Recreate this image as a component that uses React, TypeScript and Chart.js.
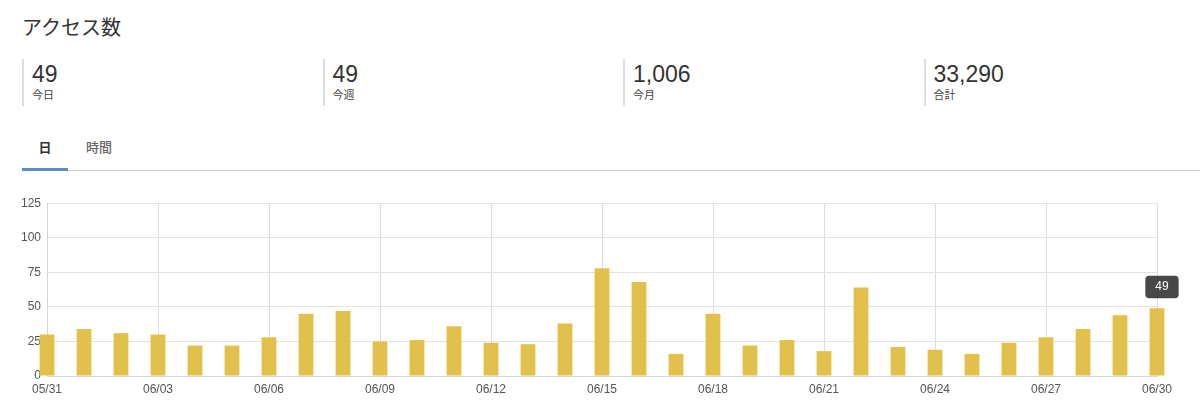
import React, { useEffect, useRef } from "react";
import { Chart, registerables, Tooltip } from "chart.js";

Chart.register(...registerables);

const dates = [
  "05/31", "06/01", "06/02", "06/03", "06/04", "06/05", "06/06", "06/07", "06/08", "06/09",
  "06/10", "06/11", "06/12", "06/13", "06/14", "06/15", "06/16", "06/17", "06/18", "06/19",
  "06/20", "06/21", "06/22", "06/23", "06/24", "06/25", "06/26", "06/27", "06/28", "06/29", "06/30",
];
const visits = [
  30, 34, 31, 30, 22, 22, 28, 45, 47, 25,
  26, 36, 24, 23, 38, 78, 68, 16, 45, 22,
  26, 18, 64, 21, 19, 16, 24, 28, 34, 44, 49,
];
const statValues = ["49", "49", "1,006", "33,290"];
const statLabels = ["今日", "今週", "今月", "合計"];
const tabs = ["日", "時間"];
const yTicks = [0, 25, 50, 75, 100, 125];

(Tooltip as any).positioners.shifted = function (items: any[]) {
  if (!items.length) return false;
  const el = items[0].element;
  return { x: el.x + 5, y: el.y };
};

const JP = '"Liberation Sans", "Noto Sans CJK JP", sans-serif';

function BarChart() {
  const ref = useRef<HTMLCanvasElement | null>(null);
  useEffect(() => {
    if (!ref.current) return;
    const chart = new Chart(ref.current, {
      type: "bar",
      data: {
        labels: dates,
        datasets: [
          {
            data: visits,
            backgroundColor: "#E1C14C",
            hoverBackgroundColor: "#E1C14C",
            barPercentage: 0.5,
            categoryPercentage: 0.8,
            clip: false as any,
          },
        ],
      },
      options: {
        animation: false,
        responsive: false,
        events: [],
        layout: { padding: { left: 0, right: 43, top: 13, bottom: 0 } },
        plugins: {
          legend: { display: false },
          tooltip: {
            enabled: true,
            position: "shifted" as any,
            backgroundColor: "rgba(40,40,40,0.85)",
            displayColors: false,
            yAlign: "bottom",
            xAlign: "center",
            caretSize: 0,
            caretPadding: 10,
            cornerRadius: 4,
            padding: { left: 10, right: 10, top: 4, bottom: 4 },
            bodyFont: { family: JP, size: 12, weight: "normal" },
            bodyColor: "#ffffff",
            callbacks: {
              title: () => "",
              label: (ctx: any) => String(ctx.parsed.y),
            },
          },
        },
        scales: {
          x: {
            offset: false,
            afterFit: (s: any) => {
              s.height = 33;
            },
            grid: {
              offset: false,
              drawTicks: false,
              color: "#dcdcdc",
            },
            border: { color: "#d6d6d6" },
            ticks: {
              autoSkip: false,
              maxRotation: 0,
              padding: 6,
              color: "#555",
              font: { family: JP, size: 12 },
              callback: (_v: any, i: number) => (i % 3 === 0 ? dates[i] : null),
            },
          },
          y: {
            min: yTicks[0],
            max: yTicks[yTicks.length - 1],
            afterFit: (s: any) => {
              s.width = 47;
            },
            afterBuildTicks: (s: any) => {
              s.ticks = yTicks.map((v) => ({ value: v }));
            },
            grid: { drawTicks: false, color: "#e3e3e3" },
            border: { color: "#d6d6d6" },
            ticks: {
              padding: 6,
              color: "#555",
              font: { family: JP, size: 12 },
            },
          },
        },
      },
    });
    chart.tooltip?.setActiveElements([{ datasetIndex: 0, index: dates.length - 1 }], { x: 0, y: 0 });
    chart.update();
    return () => chart.destroy();
  }, []);
  return <canvas ref={ref} width={1200} height={219} style={{ display: "block", width: 1200, height: 219 }} />;
}

export default function App() {
  return (
    <div
      style={{
        position: "fixed",
        left: 0,
        top: 0,
        width: 1200,
        height: 409,
        background: "#fff",
        fontFamily: JP,
        color: "#333",
        overflow: "hidden",
      }}
    >
      <div style={{ position: "absolute", left: 22, top: 16, fontSize: 20, lineHeight: "24px", color: "#333" }}>
        アクセス数
      </div>
      {statValues.map((v, i) => (
        <div
          key={i}
          style={{
            position: "absolute",
            left: 22 + i * 300.5,
            top: 59,
            height: 47,
            width: 290,
            borderLeft: "2px solid #dddddd",
            paddingLeft: 8,
            boxSizing: "border-box",
          }}
        >
          <div style={{ fontSize: 23, lineHeight: "28px", color: "#333", marginTop: 1 }}>{v}</div>
          <div style={{ fontSize: 11, lineHeight: "14px", color: "#444" }}>{statLabels[i]}</div>
        </div>
      ))}
      <div style={{ position: "absolute", left: 22, top: 170, width: 1178, height: 1, background: "#cfcfcf" }} />
      <div style={{ position: "absolute", left: 22, top: 168, width: 46, height: 3, background: "#5b8cc4" }} />
      {tabs.map((t, i) => (
        <div
          key={t}
          style={{
            position: "absolute",
            left: i === 0 ? 22 : 85,
            width: i === 0 ? 46 : 28,
            textAlign: "center",
            top: 140,
            fontSize: 13,
            lineHeight: "16px",
            fontWeight: i === 0 ? 700 : 500,
            color: i === 0 ? "#333" : "#666",
          }}
        >
          {t}
        </div>
      ))}
      <div style={{ position: "absolute", left: 0, top: 190 }}>
        <BarChart />
      </div>
    </div>
  );
}
